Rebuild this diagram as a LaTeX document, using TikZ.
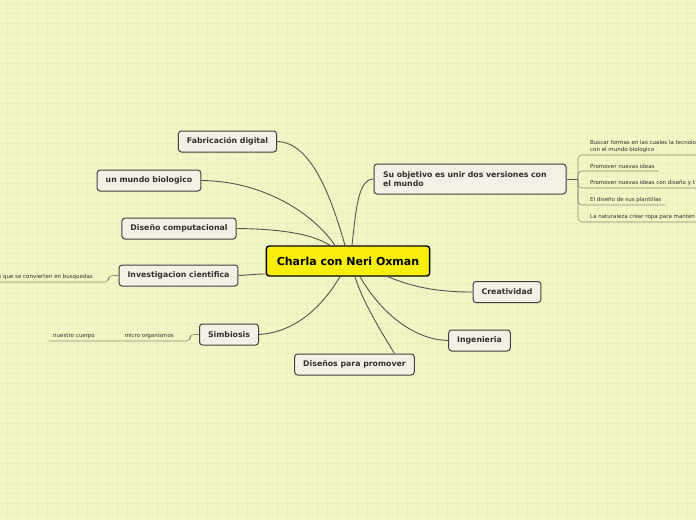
\documentclass[tikz,border=0pt]{standalone}
\usepackage{fontspec}
\newfontfamily\mapfont{DejaVu Sans}
\usepackage{tikz}
\usetikzlibrary{positioning,calc}
\definecolor{paperBg}{RGB}{242,245,196}
\definecolor{gridLine}{RGB}{233,238,186}
\definecolor{nodeFill}{RGB}{243,241,229}
\definecolor{nodeDraw}{RGB}{64,64,64}
\definecolor{rootFill}{RGB}{247,238,10}
\definecolor{linkGray}{RGB}{85,85,85}
\definecolor{noteLine}{RGB}{140,140,120}
\definecolor{textDark}{RGB}{48,48,48}

\begin{document}
\begin{tikzpicture}[x=1pt,y=-1pt,
        root/.style={rounded corners=3pt,fill=rootFill,draw=black,line width=1.4pt,
                     minimum height=30pt,inner xsep=10.5pt,
                     font=\mapfont\fontsize{11}{13}\selectfont\bfseries},
        topic/.style={rounded corners=3pt,fill=nodeFill,draw=nodeDraw,line width=1pt,
                      minimum height=21pt,inner xsep=8.5pt,text=textDark,
                      font=\mapfont\fontsize{7.8}{9}\selectfont\bfseries},
        note/.style={inner xsep=4pt,inner ysep=2.5pt,align=left,text=textDark,
                     font=\mapfont\fontsize{5.5}{7}\selectfont},
        link/.style={draw=linkGray,line width=0.9pt},
        notelink/.style={draw=noteLine,line width=0.6pt,rounded corners=4pt}
    ]
        % Background and grid
        \clip (0,0) rectangle (696,520);
        \fill[paperBg] (0,0) rectangle (696,520);
        \foreach \gx in {7,17,...,697} \draw[gridLine,line width=0.6pt] (\gx,0) -- (\gx,520);
        \foreach \gy in {3,13,...,523} \draw[gridLine,line width=0.6pt] (0,\gy) -- (696,\gy);

        % Central topic
        \node[root] (root) at (348,261) {Charla con Neri Oxman};

        % Main topics
        \node[topic] (fab) at (227.5,141.5) {Fabricación digital};
        \node[topic] (mundo) at (149,180.5) {un mundo biologico};
        \node[topic] (comp) at (179,228.5) {Diseño computacional};
        \node[topic] (inv) at (178.5,275.5) {Investigacion cientifica};
        \node[topic] (simb) at (229,334.5) {Simbiosis};
        \node[topic] (prom) at (354.5,364.5) {Diseños para promover};
        \node[topic] (crea) at (507,292) {Creatividad};
        \node[topic] (ing) at (479.5,340.5) {Ingenieria};
        \node[topic,text width=174pt,align=left,inner xsep=9pt,minimum height=30pt] (obj) at (470,179)
            {Su objetivo es unir dos versiones con el mundo};

        % Links from the central topic
        \draw[link] (fab.east) .. controls (312,142) and (332,200) .. ([xshift=-3pt]root.north);
        \draw[link] (mundo.east) .. controls (262,181) and (312,212) .. ([xshift=-13pt]root.north);
        \draw[link] (comp.east) .. controls (282,229) and (312,234) .. ([xshift=-18pt]root.north);
        \draw[link] (inv.east) .. controls (250,275) and (256,274) .. ([yshift=-13pt]root.west);
        \draw[link] (simb.east) .. controls (300,332) and (326,300) .. ([xshift=-8pt]root.south);
        \draw[link] ([xshift=40pt]prom.north) .. controls (380,330) and (362,300) .. ([xshift=7pt]root.south);
        \draw[link] (ing.west) .. controls (418,340) and (384,318) .. ([xshift=12pt]root.south);
        \draw[link] (crea.west) .. controls (440,292) and (415,288) .. ([xshift=40pt]root.south);
        \draw[link] ([xshift=4pt]root.north) .. controls (356,210) and (358,179) .. (obj.west);

        % Notes of the objective
        \coordinate (hub) at (578,179);
        \draw[link] (obj.east) -- (hub);
        \node[note,anchor=south west] (c1) at (586,155) {Buscar formas en las cuales la tecnolo\\con el mundo biologico};
        \node[note,anchor=south west] (c2) at (586,171) {Promover nuevas ideas};
        \node[note,anchor=south west] (c3) at (586,188) {Promover nuevas ideas con diseño y t};
        \node[note,anchor=south west] (c4) at (586,205) {El diseño de sus plantillas};
        \node[note,anchor=south west] (c5) at (586,222) {La naturaleza crear ropa para manten};
        \foreach \c in {c1,c3,c5}
            \draw[notelink] (hub) |- (\c.south west) -- ([xshift=40pt]\c.south east);
        \draw[notelink] (hub) |- (c2.south west) -- (c2.south east);
        \draw[notelink] (hub) |- (c4.south west) -- (c4.south east);

        % Notes on the left
        \node[note,anchor=south east] (i1) at (97,282) {s que se convierten en busquedas};
        \draw[notelink] (inv.west) -- ++(-10,0) |- (i1.south east) -- ([xshift=-20pt]i1.south west);

        \node[note,anchor=south east] (m1) at (178,341) {micro organismos};
        \node[note,anchor=south east] (n1) at (99,341) {nuestro cuerpo};
        \draw[notelink] (simb.west) -- ++(-9,0) |- (m1.south east) -- (m1.south west) -- (n1.south east) -- (n1.south west);

    \end{tikzpicture}
\end{document}
